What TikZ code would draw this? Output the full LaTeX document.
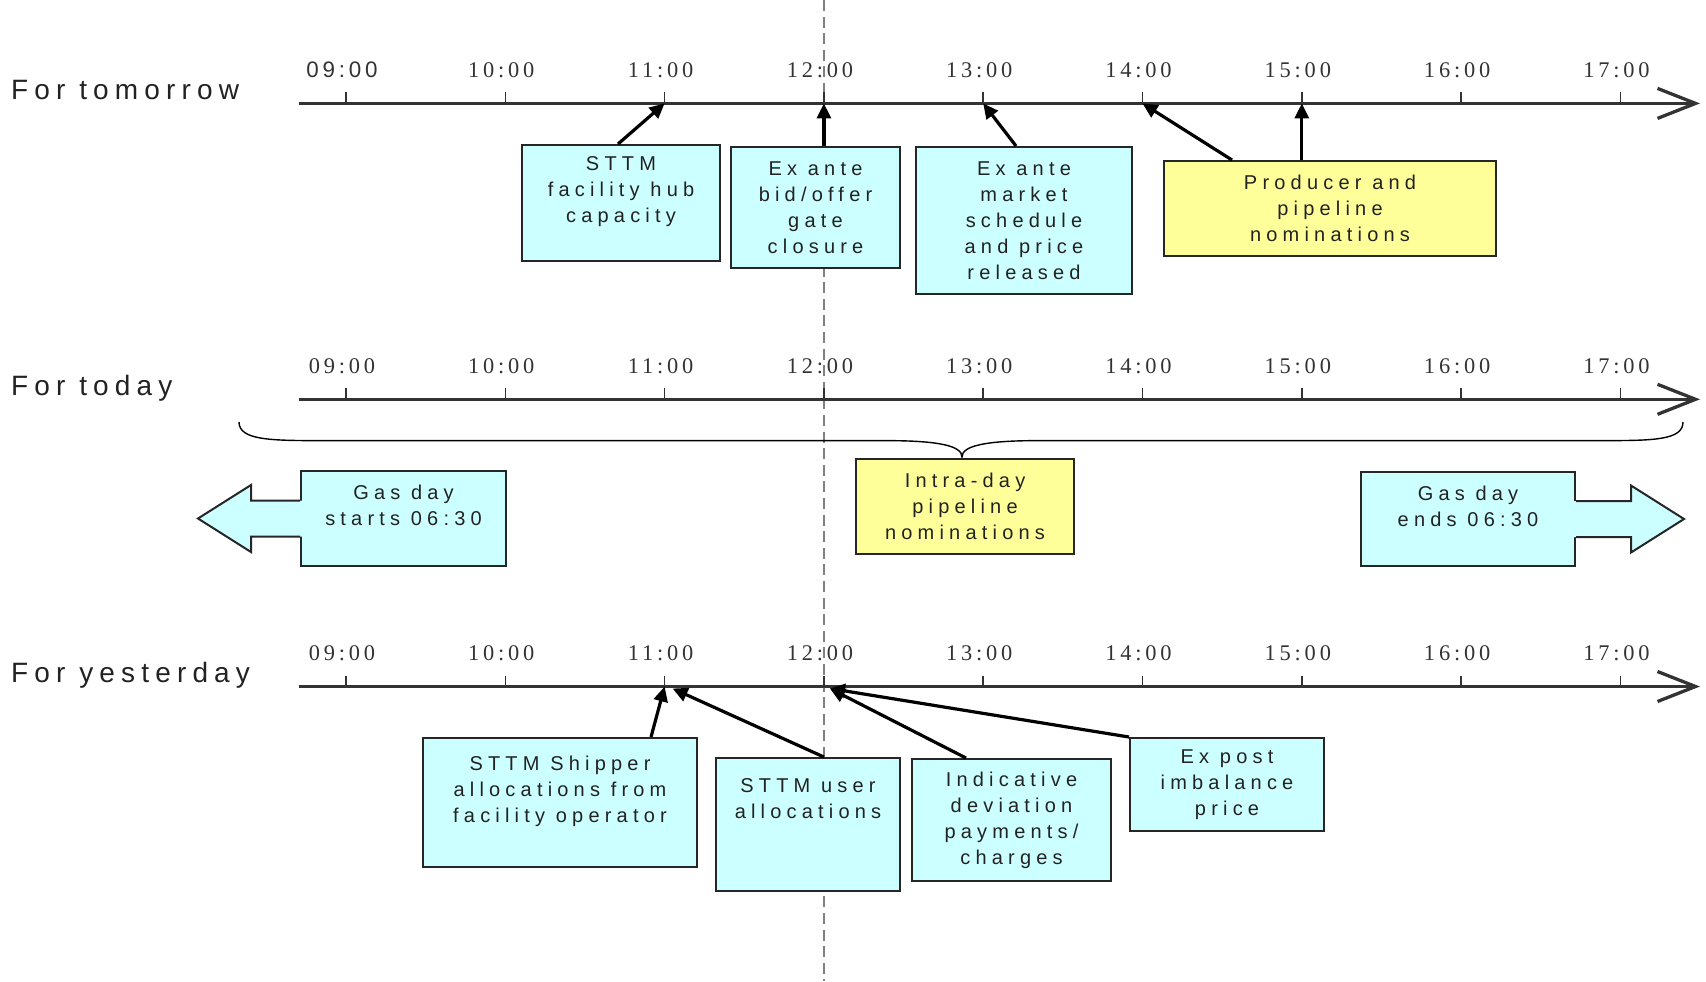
\documentclass[tikz,border=0pt]{standalone}
\usepackage{fontspec}
\setsansfont{Liberation Sans}
\newfontfamily\boxfont{Liberation Sans}[LetterSpace=26]
\newfontfamily\rowfont{Liberation Sans}[LetterSpace=22]
\newfontfamily\timefont{Liberation Serif}[LetterSpace=17]
\newfontfamily\timesans{Liberation Sans}[LetterSpace=17]
\usetikzlibrary{arrows.meta, calc}
\definecolor{boxcyan}{RGB}{204,255,255}
\definecolor{boxyel}{RGB}{255,255,153}
\definecolor{axisgy}{RGB}{51,51,51}
\definecolor{dashgy}{RGB}{128,128,128}
\definecolor{txtgy}{RGB}{34,34,34}

\begin{document}
\begin{tikzpicture}[x=0.5pt, y=-0.5pt, font=\sffamily,
    axis/.style={line width=1.65pt, axisgy, -{Straight Barb[length=19pt,width=15pt]}},
    tickmark/.style={line width=0.8pt, axisgy},
    tlabel/.style={font=\timefont\fontsize{11.2}{13}\selectfont, text=axisgy, anchor=base},
    rowlabel/.style={font=\rowfont\fontsize{14}{16}\selectfont, text=txtgy, anchor=base west},
    evbox/.style={rectangle, draw=black!85, line width=1pt, fill=#1, align=center,
                  text=txtgy, font=\boxfont\fontsize{10}{13}\selectfont, inner sep=0pt},
    outline/.style={draw=black!85, line width=1pt},
    ptr/.style={-{Triangle[length=7.5pt,width=7pt]}, line width=1.6pt},
    noon/.style={dashgy, line width=1.2pt, dash pattern=on 5.5pt off 2.8pt}]

\useasboundingbox (0,0) rectangle (1706,981);

% ════════════════════════════════════════
%  Noon marker
% ════════════════════════════════════════

\coordinate (noon-top) at (824,0);
\coordinate (noon-bot) at (824,981);
\draw[noon] (noon-top) -- (noon-bot);

% ════════════════════════════════════════
%  Time axes
% ════════════════════════════════════════

\node[rowlabel] (lab-tom) at (4,99.3) {For tomorrow};
\node[rowlabel] (lab-tod) at (4,395.5) {For today};
\node[rowlabel] (lab-yes) at (4,682.5) {For yesterday};

\foreach \row/\y/\ff in {tom/103.4/\timesans, tod/399.3/\timefont, yes/686.5/\timefont} {
  \coordinate (\row-start) at (299,\y);
  \coordinate (\row-end) at (1700,\y);
  \draw[axis] (\row-start) -- (\row-end);
  \foreach \h [count=\i from 0] in {09,10,11,12,13,14,15,16,17} {
    \coordinate (\row-\h) at ({346+159.3*\i},\y);
    \draw[tickmark] (\row-\h) -- ++(0,-11);
    \node[tlabel] (\row-t\h) at ({342+159.3*\i},{\y-26}) {\ifnum\i=0 \ff\fi\h:00};
  }
}

% ════════════════════════════════════════
%  For tomorrow
% ════════════════════════════════════════

\node[evbox=boxcyan, minimum width=99pt, minimum height=58pt] (hub) at (621,203)
    {STTM\\facility hub\\capacity\\~};
\node[evbox=boxcyan, minimum width=84.5pt, minimum height=60.5pt] (gate) at (815.5,207.5)
    {Ex ante\\bid/offer\\gate\\closure};
\node[evbox=boxcyan, minimum width=108pt, minimum height=73.5pt] (sched) at (1024,220.5)
    {Ex ante\\market\\schedule\\and price\\released};
\node[evbox=boxyel, minimum width=166pt, minimum height=47.5pt] (prod) at (1330,208.5)
    {Producer and\\pipeline\\nominations};

\draw[ptr] ($(hub.north)+(-3,0)$) -- (tom-11);
\draw[ptr] (gate.north -| tom-12) -- (tom-12);
\draw[ptr] ($(sched.north)+(-8,0)$) -- (tom-13);
\draw[ptr] ($(prod.north west)+(69,0)$) -- (tom-14);
\draw[ptr] (prod.north -| tom-15) -- (tom-15);

% ════════════════════════════════════════
%  For today
% ════════════════════════════════════════

\draw[line width=0.7pt] (239,422) .. controls (239,440) and (270,440.6) .. (320,440.6)
    -- (885,440.6) .. controls (940,440.6) and (962,446) .. (962,457)
    .. controls (962,446) and (984,440.6) .. (1039,440.6)
    -- (1604,440.6) .. controls (1654,440.6) and (1683,440) .. (1683,422);

\node[evbox=boxyel, minimum width=109pt, minimum height=47.5pt] (intra) at (965,506.5)
    {Intra-day\\pipeline\\nominations};

% Gas day start (arrow to the left)
\node[evbox=boxcyan, minimum width=102.5pt, minimum height=47.5pt] (starts) at (403.5,518.5)
    {Gas day\\starts 06:30\\~};
\begin{scope}[shift={(starts.west)}]
  \fill[boxcyan] (2,-18) -- (-49,-18) -- (-49,-33.5) -- (-102,0) -- (-49,33.5) -- (-49,18) -- (2,18) -- cycle;
  \draw[outline] (0,-18) -- (-49,-18) -- (-49,-33.5) -- (-102,0) -- (-49,33.5) -- (-49,18) -- (0,18);
\end{scope}

% Gas day end (arrow to the right)
\node[evbox=boxcyan, minimum width=107pt, minimum height=47pt] (ends) at (1468,519)
    {Gas day\\ends 06:30\\~};
\begin{scope}[shift={(ends.east)}]
  \fill[boxcyan] (-2,-18) -- (55,-18) -- (55,-33.5) -- (108,0) -- (55,33.5) -- (55,18) -- (-2,18) -- cycle;
  \draw[outline] (0,-18) -- (55,-18) -- (55,-33.5) -- (108,0) -- (55,33.5) -- (55,18) -- (0,18);
\end{scope}

% ════════════════════════════════════════
%  For yesterday
% ════════════════════════════════════════

\node[evbox=boxcyan, minimum width=137pt, minimum height=64.5pt] (shipper) at (560,802.5)
    {STTM Shipper\\allocations from\\facility operator\\~};
\node[evbox=boxcyan, minimum width=92pt, minimum height=66.5pt] (user) at (808,824.5)
    {STTM user\\allocations\\~\\~};
\node[evbox=boxcyan, minimum width=99.5pt, minimum height=61pt] (indic) at (1011.5,820)
    {Indicative\\deviation\\payments/\\charges};
\node[evbox=boxcyan, minimum width=97pt, minimum height=46.5pt] (expost) at (1227,784.5)
    {Ex post\\imbalance\\price};

\draw[ptr] ($(shipper.north east)+(-47,0)$) -- (yes-11);
\draw[ptr] (user.north -| yes-12) -- ($(yes-11)+(8,2)$);
\draw[ptr] ($(indic.north west)+(55,0)$) -- ($(yes-12)+(6,2)$);
\draw[ptr] (expost.north west) -- ($(yes-12)+(6,2)$);

\end{tikzpicture}
\end{document}
